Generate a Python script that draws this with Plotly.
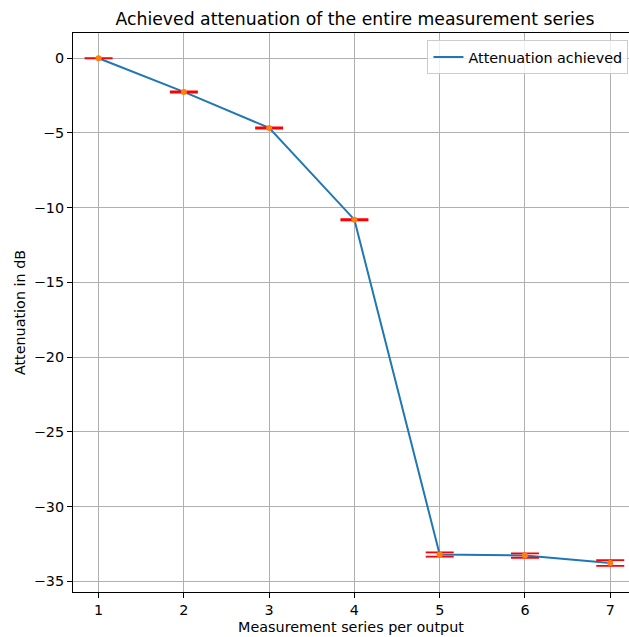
import plotly.graph_objects as go

series = [1, 2, 3, 4, 5, 6, 7]
attenuation = [0.0, -2.25, -4.66, -10.8, -33.2, -33.27, -33.77]
errors = [0.01, 0.04, 0.04, 0.04, 0.14, 0.15, 0.19]
y_ticks = [0, -5, -10, -15, -20, -25, -30, -35]
y_tick_labels = ["0", "−5", "−10", "−15", "−20", "−25", "−30", "−35"]

FONT = "DejaVu Sans"
W, H = 629, 637
FS = 14.35

fig = go.Figure()
fig.add_trace(go.Scatter(
    x=series, y=attenuation, mode="lines",
    line=dict(color="#1f77b4", width=2),
    name="Attenuation achieved",
))
fig.add_trace(go.Scatter(
    x=series, y=attenuation, mode="markers",
    marker=dict(color="#ff7f0e", size=6),
    error_y=dict(type="data", array=errors, visible=True,
                 color="red", thickness=1.8, width=14),
    showlegend=False,
))

axis_common = dict(
    showline=True, linecolor="black", linewidth=1,
    ticks="outside", ticklen=5, tickwidth=1, tickcolor="black",
    showgrid=True, gridcolor="#b0b0b0", gridwidth=1,
    zeroline=False,
    tickfont=dict(family=FONT, size=FS, color="black"),
)

fig.update_layout(
    width=W, height=H,
    margin=dict(l=73, r=0, t=33, b=45),
    paper_bgcolor="white", plot_bgcolor="white",
    font=dict(family=FONT, color="black"),
    title=dict(text="Achieved attenuation of the entire measurement series",
               x=355 / W, xanchor="center",
               y=1 - 19 / H, yanchor="middle",
               font=dict(family=FONT, size=17.25, color="black")),
    xaxis=dict(range=[0.7, 7.22], tickvals=series,
               ticktext=[str(s) for s in series],
               mirror=True,
               title=dict(text="Measurement series per output",
                          font=dict(family=FONT, size=FS), standoff=4),
               **axis_common),
    yaxis=dict(range=[-35.71, 1.69], tickvals=y_ticks, ticktext=y_tick_labels,
               mirror=True,
               title=dict(text="Attenuation in dB",
                          font=dict(family=FONT, size=FS), standoff=4),
               **axis_common),
    legend=dict(x=0.999, xanchor="right", y=0.987, yanchor="top",
                bgcolor="rgba(255,255,255,0.8)", bordercolor="#cccccc",
                borderwidth=1, tracegroupgap=0,
                font=dict(family=FONT, size=FS, color="black")),
)

fig.write_html(
    "out.html",
    config={"displayModeBar": False},
    post_script="document.body.style.margin='0';document.body.style.overflow='hidden';",
)
